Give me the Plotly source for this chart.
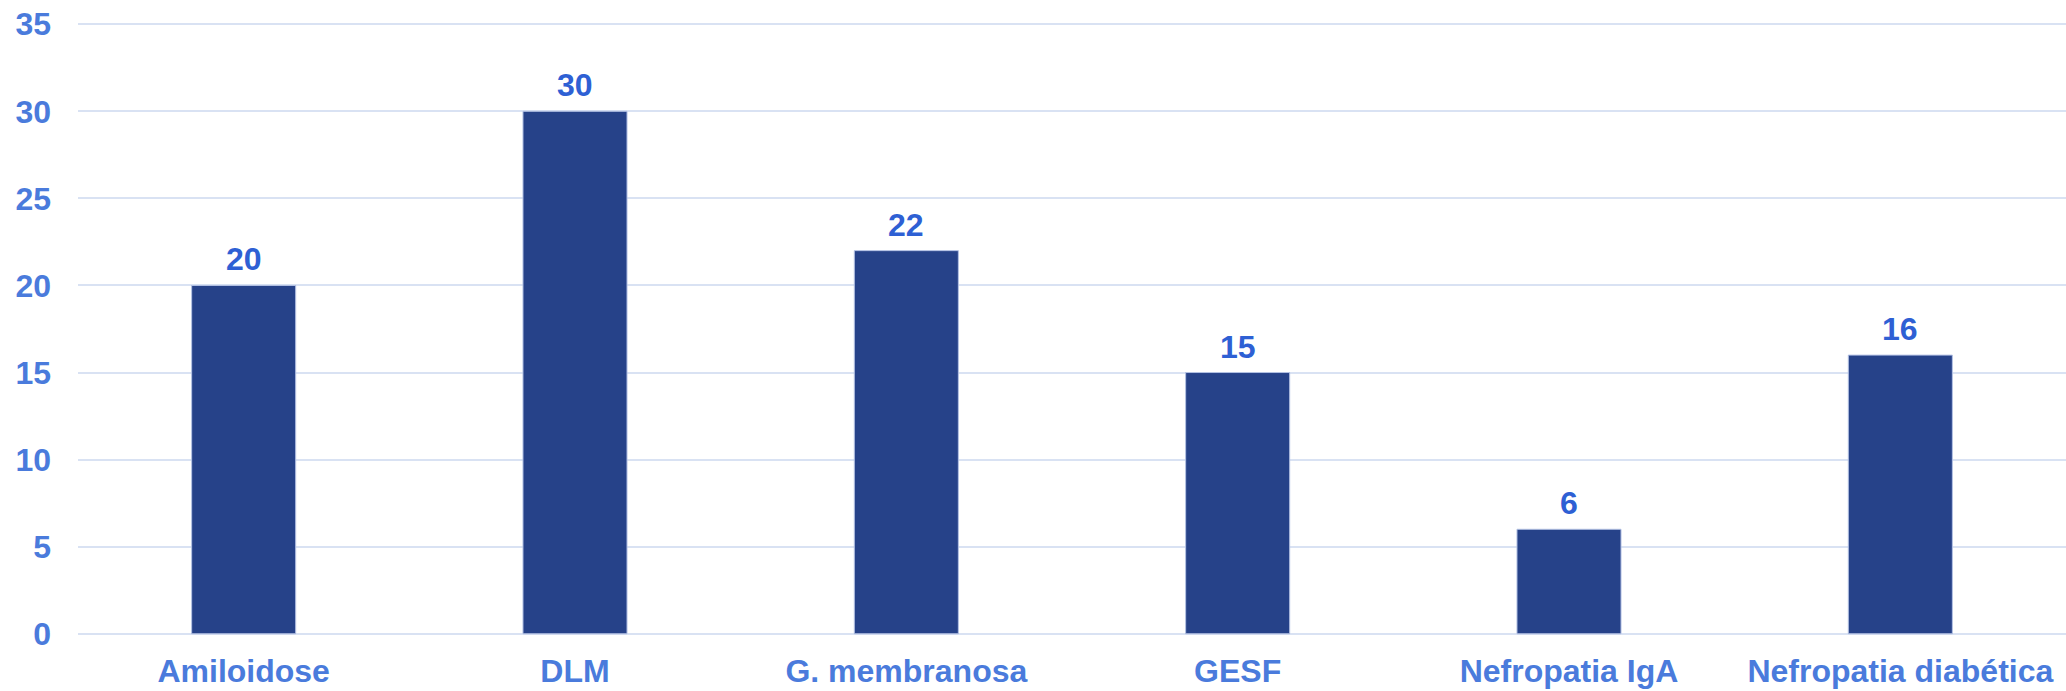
import plotly.graph_objects as go

categories = ["Amiloidose", "DLM", "G. membranosa", "GESF", "Nefropatia IgA", "Nefropatia diabética"]
values = [20, 30, 22, 15, 6, 16]
y_ticks = [0, 5, 10, 15, 20, 25, 30, 35]

bar_color = "#264289"
tick_color = "#4a7bdc"
label_color = "#2e60d4"
grid_color = "#d9e2f3"
font_family = "Liberation Sans, Arial, sans-serif"

fig = go.Figure()
fig.add_trace(go.Bar(
    x=categories, y=values,
    marker=dict(color=bar_color, line=dict(color="#b4c2e4", width=1)),
    width=0.314,
    hoverinfo="x+y",
))

for c, v in zip(categories, values):
    fig.add_annotation(
        x=c, y=v, text=str(v), showarrow=False,
        yanchor="bottom", yshift=6,
        font=dict(family=font_family, size=32, color=label_color, weight="bold"),
    )

fig.update_layout(
    width=2066, height=691,
    margin=dict(l=78, r=0, t=23, b=56),
    paper_bgcolor="white", plot_bgcolor="white",
    showlegend=False,
    font=dict(family=font_family),
    xaxis=dict(
        showgrid=False, showline=False, zeroline=False, automargin=False,
        tickfont=dict(family=font_family, size=32, color=tick_color, weight="bold"),
        ticklabelstandoff=14, ticklabeloverflow="allow",
    ),
    yaxis=dict(
        range=[-0.07, 35.07], tickvals=y_ticks, ticktext=[str(t) for t in y_ticks],
        showgrid=True, gridcolor=grid_color, gridwidth=2,
        zeroline=False, showline=False, automargin=False,
        tickfont=dict(family=font_family, size=32, color=tick_color, weight="bold"),
        ticklabelstandoff=26, ticklabeloverflow="allow",
    ),
)

fig.write_html(
    "out.html",
    config={"displayModeBar": False},
    post_script="document.body.style.margin='0';",
)
